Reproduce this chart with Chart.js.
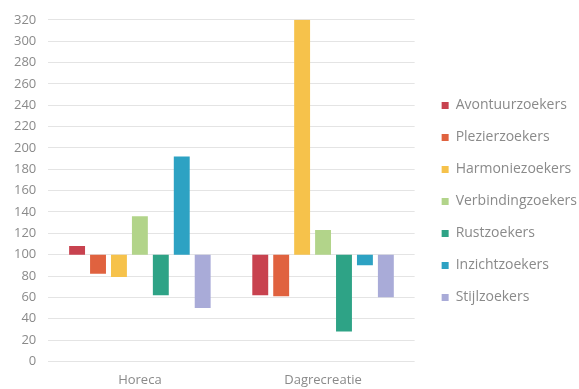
<!DOCTYPE html>
<html>
<head>
<meta charset="utf-8">
<script src="https://cdn.jsdelivr.net/npm/chart.js@4/dist/chart.umd.min.js"></script>
<style>
  html, body { margin: 0; padding: 0; background: #ffffff; }
  #wrap { width: 579px; height: 389px; }
</style>
</head>
<body>
<div id="wrap"><canvas id="c" width="579" height="389"></canvas></div>
<script>
// Index per segment (100 = average), per sector
const categories = ['Horeca', 'Dagrecreatie'];
const baseline = 100;

const avontuurzoekers   = [108, 62];
const plezierzoekers    = [82, 61];
const harmoniezoekers   = [79, 320];
const verbindingzoekers = [136, 123];
const rustzoekers       = [62, 28];
const inzichtzoekers    = [192, 90];
const stijlzoekers      = [50, 60];

const yTicks = [0, 20, 40, 60, 80, 100, 120, 140, 160, 180, 200, 220, 240, 260, 280, 300, 320];

const series = [
  { label: 'Avontuurzoekers',   values: avontuurzoekers,   color: '#c8424f' },
  { label: 'Plezierzoekers',    values: plezierzoekers,    color: '#e0623f' },
  { label: 'Harmoniezoekers',   values: harmoniezoekers,   color: '#f6c24b' },
  { label: 'Verbindingzoekers', values: verbindingzoekers, color: '#b2d48a' },
  { label: 'Rustzoekers',       values: rustzoekers,       color: '#2ea386' },
  { label: 'Inzichtzoekers',    values: inzichtzoekers,    color: '#2da2c3' },
  { label: 'Stijlzoekers',      values: stijlzoekers,      color: '#a9abd8' }
];

// Each bar floats between the baseline and the segment's index
const datasets = series.map(s => ({
  label: s.label,
  data: s.values.map(v => [baseline, v]),
  backgroundColor: s.color,
  borderWidth: 0,
  categoryPercentage: 0.8,
  barPercentage: 0.76
}));

const textColor = '#8a8a8a';
const fontFamily = '"Open Sans", "Noto Sans", sans-serif';

// Extra horizontal space between the plot area and the side legend,
// without changing the vertical spacing of the legend rows.
const LEGEND_GAP = 9;
const legendGap = {
  id: 'legendGap',
  afterInit(chart) {
    const lg = chart.legend;
    if (!lg) return;
    const fit = lg.fit;
    lg.fit = function () {
      fit.call(this);
      if (!this.isHorizontal()) this.width += LEGEND_GAP;
    };
    const draw = lg.draw;
    lg.draw = function () {
      const ctx = this.ctx;
      ctx.save();
      ctx.translate(LEGEND_GAP, 0);
      draw.call(this);
      ctx.restore();
    };
  }
};

function build() {
  new Chart(document.getElementById('c'), {
    type: 'bar',
    data: { labels: categories, datasets },
    plugins: [legendGap],
    options: {
      responsive: false,
      animation: false,
      layout: { padding: { top: 12, left: 2, right: -8, bottom: -2 } },
      plugins: {
        tooltip: { enabled: false },
        legend: {
          position: 'right',
          align: 'center',
          maxWidth: 220,
          labels: {
            boxWidth: 7,
            boxHeight: 7,
            padding: 18,
            color: textColor,
            font: { family: fontFamily, size: 14 }
          }
        }
      },
      scales: {
        x: {
          grid: { display: false },
          border: { display: false },
          ticks: { color: textColor, font: { family: fontFamily, size: 13 }, padding: 3 }
        },
        y: {
          min: 0,
          max: 320,
          afterBuildTicks: axis => { axis.ticks = yTicks.map(v => ({ value: v })); },
          grid: { color: '#e4e4e4', drawTicks: false },
          border: { display: false },
          ticks: { color: textColor, font: { family: fontFamily, size: 13 }, padding: 12 }
        }
      }
    }
  });
}

// Make sure text is measured with the final font
Promise.all([
  document.fonts.load('14px "Open Sans"'),
  document.fonts.load('13px "Open Sans"')
]).then(build, build);
</script>
</body>
</html>
